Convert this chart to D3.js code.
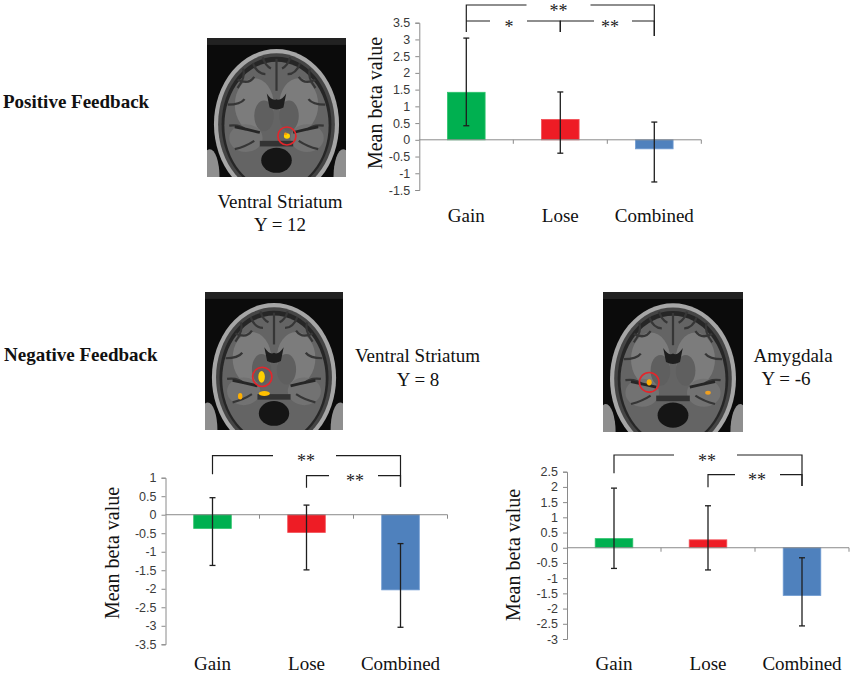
<!DOCTYPE html>
<html>
<head>
<meta charset="utf-8">
<script src="https://cdn.jsdelivr.net/npm/d3@7/dist/d3.min.js"></script>
<style>
  html, body { margin: 0; padding: 0; background: #ffffff; }
  svg { display: block; }
</style>
</head>
<body>
<svg id="fig" width="850" height="674"></svg>
<script>
// ---------------- DATA ----------------
const categories = ["Gain", "Lose", "Combined"];

// Positive feedback, ventral striatum (Y = 12)
const posMeans   = [1.42, 0.61, -0.27];
const posErrTop  = [3.04, 1.43, 0.53];
const posErrBot  = [0.42, -0.40, -1.26];
const posTicks   = [-1.5, -1, -0.5, 0, 0.5, 1, 1.5, 2, 2.5, 3, 3.5];

// Negative feedback, ventral striatum (Y = 8)
const negVsMeans  = [-0.37, -0.48, -2.03];
const negVsErrTop = [0.46, 0.26, -0.78];
const negVsErrBot = [-1.37, -1.49, -3.04];
const negVsTicks  = [-3.5, -3, -2.5, -2, -1.5, -1, -0.5, 0, 0.5, 1];

// Negative feedback, amygdala (Y = -6)
const amyMeans  = [0.30, 0.26, -1.57];
const amyErrTop = [1.96, 1.38, -0.33];
const amyErrBot = [-0.68, -0.73, -2.57];
const amyTicks  = [-3, -2.5, -2, -1.5, -1, -0.5, 0, 0.5, 1, 1.5, 2, 2.5];

// significance comparisons: [from, to, label]
const posSig   = [["Gain", "Combined", "**"], ["Gain", "Lose", "*"], ["Lose", "Combined", "**"]];
const negVsSig = [["Gain", "Combined", "**"], ["Lose", "Combined", "**"]];
const amySig   = [["Gain", "Combined", "**"], ["Lose", "Combined", "**"]];

const barColors = ["#00b050", "#ee1c25", "#4f81bd"];
const barStroke = ["#2cc26a", "#f25058", "#6f9bd2"];

// ---------------- DRAW ----------------
const svg = d3.select("#fig");
const SERIF = "'Liberation Serif', 'Times New Roman', serif";
const SANS = "'Liberation Sans', Arial, sans-serif";

function drawChart(cfg) {
  const g = svg.append("g");
  const x = d3.scaleBand().domain(categories).range([cfg.x0, cfg.x1]).paddingInner(0).paddingOuter(0);
  const y = d3.scaleLinear().domain(cfg.domain).range([cfg.yBottom, cfg.yTop]);
  const bw = x.bandwidth() * 0.4;
  const cx = c => x(c) + x.bandwidth() / 2;

  // y axis
  const yAxis = d3.axisLeft(y).tickValues(cfg.ticks).tickSize(4).tickPadding(5)
    .tickFormat(d => String(d));
  const ya = g.append("g").attr("transform", `translate(${cfg.x0},0)`).call(yAxis);
  ya.select(".domain").attr("stroke", "#8a8a8a").attr("stroke-width", 1);
  ya.selectAll(".tick line").attr("stroke", "#8a8a8a");
  ya.selectAll(".tick text").attr("font-family", SANS).attr("font-size", 12.5)
    .attr("fill", "#3a3a3a");

  // bars
  g.selectAll("rect.bar").data(cfg.means).enter().append("rect")
    .attr("class", "bar")
    .attr("x", (d, i) => cx(categories[i]) - bw / 2)
    .attr("width", bw)
    .attr("y", d => Math.min(y(d), y(0)))
    .attr("height", d => Math.abs(y(d) - y(0)))
    .attr("fill", (d, i) => barColors[i])
    .attr("stroke", (d, i) => barStroke[i])
    .attr("stroke-width", 0.8);

  // zero axis (category axis)
  const xa = g.append("g").attr("transform", `translate(0,${y(0)})`);
  xa.append("line").attr("x1", cfg.x0).attr("x2", cfg.x1).attr("stroke", "#8a8a8a");
  categories.forEach(c => {
    const bx = x(c) + x.bandwidth();
    xa.append("line").attr("x1", bx).attr("x2", bx).attr("y1", 0).attr("y2", 4).attr("stroke", "#8a8a8a");
  });

  // error bars
  cfg.means.forEach((m, i) => {
    const xc = cx(categories[i]);
    const t = y(cfg.errTop[i]), b = y(cfg.errBot[i]);
    g.append("line").attr("x1", xc).attr("x2", xc).attr("y1", t).attr("y2", b)
      .attr("stroke", "#1e1e1e").attr("stroke-width", 1.3);
    [t, b].forEach(yy => g.append("line").attr("x1", xc - 3).attr("x2", xc + 3)
      .attr("y1", yy).attr("y2", yy).attr("stroke", "#1e1e1e").attr("stroke-width", 1.3));
  });

  // category labels
  g.selectAll("text.cat").data(categories).enter().append("text")
    .attr("class", "cat")
    .attr("x", d => cx(d)).attr("y", cfg.catY)
    .attr("text-anchor", "middle")
    .attr("font-family", SERIF).attr("font-size", 19).attr("fill", "#111")
    .text(d => d);

  // y label
  g.append("text")
    .attr("transform", `translate(${cfg.yLabelX},${cfg.yLabelY}) rotate(-90)`)
    .attr("text-anchor", "middle")
    .attr("font-family", SERIF).attr("font-size", 20).attr("fill", "#111")
    .text("Mean beta value");

  // significance brackets
  cfg.sig.forEach((s, k) => {
    const L = cfg.bracketLayout[k];
    const xa1 = cx(s[0]), xb1 = cx(s[1]);
    const ly = L.y;
    const gap = L.gap;
    const mid = (L.textX !== undefined) ? L.textX : (xa1 + xb1) / 2;
    const p = d3.path();
    if (L.leftEnd !== null) { p.moveTo(xa1, L.leftEnd); p.lineTo(xa1, ly); } else { p.moveTo(xa1, ly); }
    p.lineTo(mid - gap[0], ly);
    p.moveTo(mid + gap[1], ly);
    p.lineTo(xb1, ly);
    if (L.rightEnd !== null) p.lineTo(xb1, L.rightEnd);
    g.append("path").attr("d", p.toString()).attr("fill", "none")
      .attr("stroke", "#1e1e1e").attr("stroke-width", 1.2);
    g.append("text").attr("x", mid).attr("y", ly + 11.5)
      .attr("text-anchor", "middle")
      .attr("font-family", SERIF).attr("font-size", 18).attr("fill", "#222")
      .text(s[2]);
  });
}

// chart: positive feedback
drawChart({
  x0: 419.3, x1: 701.3, yTop: 22.7, yBottom: 190, domain: [-1.5, 3.5], ticks: posTicks,
  means: posMeans, errTop: posErrTop, errBot: posErrBot, sig: posSig,
  catY: 222, yLabelX: 382, yLabelY: 103,
  bracketLayout: [
    { y: 5, leftEnd: 32, rightEnd: 36, gap: [32, 32], textX: 558.5 },
    { y: 21, leftEnd: null, rightEnd: 32, gap: [19, 18], textX: 509 },
    { y: 21, leftEnd: 32, rightEnd: 36, gap: [16, 22], textX: 610 }
  ]
});

// chart: negative feedback, ventral striatum
drawChart({
  x0: 165.5, x1: 447.5, yTop: 477.7, yBottom: 644.3, domain: [-3.5, 1], ticks: negVsTicks,
  means: negVsMeans, errTop: negVsErrTop, errBot: negVsErrBot, sig: negVsSig,
  catY: 670, yLabelX: 119, yLabelY: 553,
  bracketLayout: [
    { y: 455.7, leftEnd: 474.3, rightEnd: 486.7, gap: [33, 30], textX: 306 },
    { y: 475.7, leftEnd: 487.7, rightEnd: 486.7, gap: [26, 23], textX: 355 }
  ]
});

// chart: negative feedback, amygdala
drawChart({
  x0: 567, x1: 849, yTop: 471.7, yBottom: 639, domain: [-3, 2.5], ticks: amyTicks,
  means: amyMeans, errTop: amyErrTop, errBot: amyErrBot, sig: amySig,
  catY: 670, yLabelX: 520, yLabelY: 555,
  bracketLayout: [
    { y: 455, leftEnd: 473.3, rightEnd: 486, gap: [33, 30], textX: 707 },
    { y: 474.7, leftEnd: 487.3, rightEnd: 486, gap: [22, 23], textX: 757 }
  ]
});

// ---------------- brain slices (schematic) ----------------
let clipId = 0;
function drawBrain(x0, y0, size, blobs, circle) {
  const s = size / 100;
  const id = "clip" + (clipId++);
  svg.append("clipPath").attr("id", id).append("rect")
    .attr("x", x0).attr("y", y0).attr("width", size).attr("height", size);
  const outer = svg.append("g").attr("clip-path", `url(#${id})`);
  const g = outer.append("g").attr("transform", `translate(${x0},${y0}) scale(${s})`);
  g.append("rect").attr("width", 100).attr("height", 100).attr("fill", "#0b0b0b");
  g.append("rect").attr("width", 100).attr("height", 5).attr("fill", "#222");
  // neck / face corners
  g.append("ellipse").attr("cx", 2).attr("cy", 100).attr("rx", 7).attr("ry", 20).attr("fill", "#8f8f8f");
  g.append("ellipse").attr("cx", 98).attr("cy", 100).attr("rx", 7).attr("ry", 20).attr("fill", "#8f8f8f");
  // scalp
  g.append("ellipse").attr("cx", 50).attr("cy", 62).attr("rx", 45).attr("ry", 54).attr("fill", "#a6a6a6");
  g.append("ellipse").attr("cx", 50).attr("cy", 62).attr("rx", 42).attr("ry", 51).attr("fill", "#454545");
  g.append("ellipse").attr("cx", 50).attr("cy", 62).attr("rx", 39.5).attr("ry", 48.5).attr("fill", "#262626");
  // brain
  g.append("ellipse").attr("cx", 50).attr("cy", 63).attr("rx", 37.5).attr("ry", 46).attr("fill", "#646464");
  // white matter
  g.append("ellipse").attr("cx", 34).attr("cy", 48).attr("rx", 14).attr("ry", 19).attr("fill", "#7c7c7c");
  g.append("ellipse").attr("cx", 66).attr("cy", 48).attr("rx", 14).attr("ry", 19).attr("fill", "#7c7c7c");
  g.append("ellipse").attr("cx", 28).attr("cy", 72).attr("rx", 12).attr("ry", 10).attr("fill", "#727272");
  g.append("ellipse").attr("cx", 72).attr("cy", 72).attr("rx", 12).attr("ry", 10).attr("fill", "#727272");
  // deep grey nuclei
  g.append("ellipse").attr("cx", 41).attr("cy", 56).attr("rx", 7).attr("ry", 11).attr("fill", "#5f5f5f");
  g.append("ellipse").attr("cx", 59).attr("cy", 56).attr("rx", 7).attr("ry", 11).attr("fill", "#5f5f5f");
  // sulci
  const sulci = [
    "M50,15 L50,38", "M22,30 Q30,34 34,28", "M78,30 Q70,34 66,28", "M15,48 Q24,48 27,44",
    "M85,48 Q76,48 73,44", "M33,18 Q36,26 42,26", "M67,18 Q64,26 58,26", "M16,63 Q24,62 28,66",
    "M84,63 Q76,62 72,66", "M20,80 Q28,78 34,74", "M80,80 Q72,78 66,74", "M40,14 Q42,20 46,22",
    "M60,14 Q58,20 54,22", "M26,22 Q28,28 22,36", "M74,22 Q72,28 78,36"
  ];
  g.selectAll("path.sulc").data(sulci).enter().append("path")
    .attr("d", d => d).attr("fill", "none").attr("stroke", "#363636").attr("stroke-width", 1.6);
  // ventricles
  g.append("path").attr("d", "M43,40 Q47,46 50,44 Q53,46 57,40 L55,50 Q50,53 45,50 Z").attr("fill", "#1e1e1e");
  // sylvian fissures
  g.append("path").attr("d", "M20,64 Q30,66 38,68").attr("fill", "none").attr("stroke", "#262626").attr("stroke-width", 2);
  g.append("path").attr("d", "M80,64 Q70,66 62,68").attr("fill", "none").attr("stroke", "#262626").attr("stroke-width", 2);
  // bottom dark region
  g.append("ellipse").attr("cx", 50).attr("cy", 88).attr("rx", 11).attr("ry", 9).attr("fill", "#151515");
  g.append("rect").attr("x", 38).attr("y", 74).attr("width", 24).attr("height", 4).attr("fill", "#333");
  // activation blobs
  blobs.forEach(b => g.append("ellipse").attr("cx", b[0]).attr("cy", b[1]).attr("rx", b[2]).attr("ry", b[3])
    .attr("fill", b[4]));
  // ROI circle
  g.append("circle").attr("cx", circle[0]).attr("cy", circle[1]).attr("r", circle[2])
    .attr("fill", "none").attr("stroke", "#e3262c").attr("stroke-width", 1.2);
}

drawBrain(207, 38, 139, [[57.5, 70.5, 2.2, 2, "#ffd400"], [56.5, 69, 1, 1, "#ff9a00"]], [57.5, 70.5, 6.5]);
drawBrain(205, 292, 138, [[41, 61.5, 2.4, 4.3, "#ffd000"], [43, 73.5, 4, 1.8, "#ffc000"], [25.5, 75.5, 1.6, 2.4, "#ffb000"]], [41.5, 61.5, 7]);
drawBrain(603, 292, 140, [[33, 64.5, 1.8, 2.2, "#ffb000"], [75, 72, 2, 1.4, "#f0a020"]], [33, 64.5, 7]);

// ---------------- text labels ----------------
function label(txt, x, y, opts = {}) {
  svg.append("text").attr("x", x).attr("y", y)
    .attr("text-anchor", opts.anchor || "middle")
    .attr("font-family", SERIF).attr("font-size", opts.size || 19)
    .attr("font-weight", opts.bold ? "bold" : "normal")
    .attr("fill", "#111").text(txt);
}
label("Positive Feedback", 3, 108, { anchor: "start", bold: true, size: 19 });
label("Negative Feedback", 4, 361, { anchor: "start", bold: true, size: 19 });
label("Ventral Striatum", 280, 208);
label("Y = 12", 280, 231);
label("Ventral Striatum", 417.5, 362);
label("Y = 8", 418, 386);
label("Amygdala", 793, 362);
label("Y = -6", 786, 385);
</script>
</body>
</html>
